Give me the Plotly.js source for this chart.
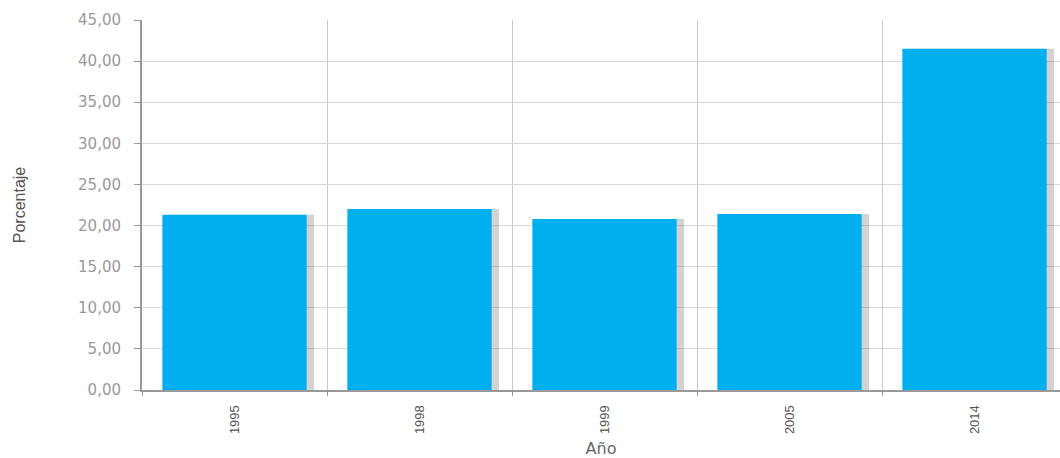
<!DOCTYPE html>
<html>
<head>
<meta charset="utf-8">
<script src="https://cdn.plot.ly/plotly-3.0.1.min.js"></script>
<style>html,body{margin:0;padding:0;background:#fff;}#chart{width:1060px;height:458px;}</style>
</head>
<body>
<div id="chart"></div>
<script>
const years = ["1995", "1998", "1999", "2005", "2014"];
const porcentaje = [21.3, 22.0, 20.8, 21.4, 41.5];
const yTicks = [0, 5, 10, 15, 20, 25, 30, 35, 40, 45];

const shadow = {
  type: "bar", x: years, y: porcentaje,
  width: 0.78, offset: -0.39 + 0.04,
  marker: {color: "rgba(110,110,110,0.3)", line: {width: 0}},
  hoverinfo: "skip", showlegend: false
};
const bars = {
  type: "bar", x: years, y: porcentaje,
  width: 0.78, offset: -0.39,
  marker: {color: "#00b0ee", line: {width: 0}},
  showlegend: false
};

const layout = {
  width: 1060, height: 458,
  margin: {l: 142, r: 0, t: 20, b: 68},
  paper_bgcolor: "#fff", plot_bgcolor: "#fff",
  separators: ",.",
  barmode: "overlay",
  font: {family: "DejaVu Sans, sans-serif", color: "#777"},
  xaxis: {
    type: "category",
    range: [-0.5, -0.5 + 918 / 185],
    tickson: "boundaries",
    showgrid: true, gridcolor: "#c8c8c8", gridwidth: 1,
    showline: true, linecolor: "#999", linewidth: 2,
    ticks: "outside", ticklen: 4, tickcolor: "#999",
    tickangle: -90,
    ticklabelstandoff: 8,
    tickfont: {family: "Liberation Sans Narrow, Liberation Sans, sans-serif", size: 13, color: "#555"},
    title: {text: "Año", standoff: 16, font: {family: "DejaVu Sans, sans-serif", size: 16, color: "#666"}},
    fixedrange: true
  },
  yaxis: {
    range: [0, 45],
    tickvals: yTicks,
    tickformat: ".2f",
    showgrid: true, gridcolor: "#d8d8d8", gridwidth: 1,
    zeroline: false,
    showline: true, linecolor: "#999", linewidth: 2,
    ticks: "outside", ticklen: 6, tickcolor: "#999",
    ticklabelstandoff: 10,
    tickfont: {family: "DejaVu Sans, sans-serif", size: 15, color: "#999"},
    title: {text: "Porcentaje", standoff: 48, font: {family: "Liberation Sans Narrow, Liberation Sans, sans-serif", size: 16, color: "#555"}},
    fixedrange: true
  }
};

Plotly.newPlot("chart", [shadow, bars], layout, {displayModeBar: false, staticPlot: true});
</script>
</body>
</html>
